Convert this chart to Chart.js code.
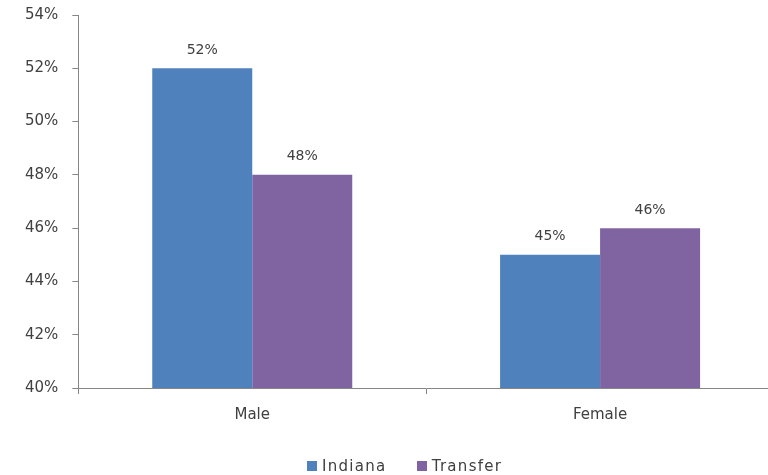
<!DOCTYPE html>
<html>
<head>
    <meta charset="utf-8" />
    <title>Indiana vs Transfer by gender</title>
    <script src="https://cdn.jsdelivr.net/npm/chart.js"></script>
    <style>
        body {
            margin: 0;
            padding: 0;
            background: white;
            font-family: 'DejaVu Sans', sans-serif;
        }

        #wrap {
            position: relative;
            width: 768px;
            height: 475px;
            overflow: hidden;
        }

        #grafico {
            position: absolute;
            top: -8px;
            left: 0;
        }

        #leyenda {
            position: absolute;
            top: 457px;
            left: 307px;
            font-size: 15px;
            letter-spacing: 1.3px;
            color: #404040;
            white-space: nowrap;
        }

        #leyenda span.caja {
            display: inline-block;
            width: 10px;
            height: 10px;
            margin-right: 5px;
        }

        #leyenda span.item {
            margin-right: 30px;
        }
    </style>
</head>
<body>
    <div id="wrap">
        <canvas id="grafico" width="774" height="483"></canvas>
        <div id="leyenda"></div>
    </div>

    <script>
        const categorias = ["Male", "Female"];
        const series = ["Indiana", "Transfer"];
        const indiana = [52, 45];
        const transfer = [48, 46];
        const etiquetasIndiana = ["52%", "45%"];
        const etiquetasTransfer = ["48%", "46%"];
        const colores = ["#4F81BD", "#8064A2"];

        const fuente = "'DejaVu Sans', sans-serif";
        const textoColor = "#404040";

        // escribe el porcentaje encima de cada barra
        const etiquetasBarras = {
            id: "etiquetasBarras",
            afterDatasetsDraw(chart) {
                const ctx = chart.ctx;
                ctx.save();
                ctx.font = "14px " + fuente;
                ctx.fillStyle = textoColor;
                ctx.textAlign = "center";
                ctx.textBaseline = "middle";
                chart.data.datasets.forEach((ds, i) => {
                    const meta = chart.getDatasetMeta(i);
                    meta.data.forEach((bar, j) => {
                        ctx.fillText(ds.etiquetas[j], bar.x, bar.y - 18);
                    });
                });
                ctx.restore();
            }
        };

        // leyenda en html debajo del grafico
        const leyenda = document.getElementById("leyenda");
        series.forEach((nombre, i) => {
            const item = document.createElement("span");
            item.className = "item";
            item.innerHTML = `<span class="caja" style="background:${colores[i]}"></span>${nombre}`;
            leyenda.appendChild(item);
        });

        new Chart(document.getElementById("grafico"), {
            type: "bar",
            data: {
                labels: categorias,
                datasets: [
                    {
                        label: series[0],
                        data: indiana,
                        etiquetas: etiquetasIndiana,
                        backgroundColor: colores[0]
                    },
                    {
                        label: series[1],
                        data: transfer,
                        etiquetas: etiquetasTransfer,
                        backgroundColor: colores[1]
                    }
                ]
            },
            plugins: [etiquetasBarras],
            options: {
                responsive: false,
                animation: false,
                categoryPercentage: 0.575,
                barPercentage: 1.0,
                layout: {
                    padding: { left: 11, right: 0, top: 0, bottom: 39 }
                },
                plugins: {
                    legend: { display: false },
                    tooltip: { enabled: false }
                },
                scales: {
                    x: {
                        grid: {
                            offset: true,
                            drawOnChartArea: false,
                            tickLength: 6,
                            color: "#868686"
                        },
                        border: { color: "#868686" },
                        ticks: {
                            color: textoColor,
                            padding: 12,
                            font: { family: fuente, size: 15 }
                        }
                    },
                    y: {
                        min: 40,
                        max: 54,
                        grid: {
                            drawOnChartArea: false,
                            tickLength: 6,
                            color: "#868686"
                        },
                        border: { color: "#868686" },
                        ticks: {
                            stepSize: 2,
                            padding: 14,
                            color: textoColor,
                            font: { family: fuente, size: 15 },
                            callback: v => v + "%"
                        }
                    }
                }
            }
        });
    </script>
</body>
</html>
